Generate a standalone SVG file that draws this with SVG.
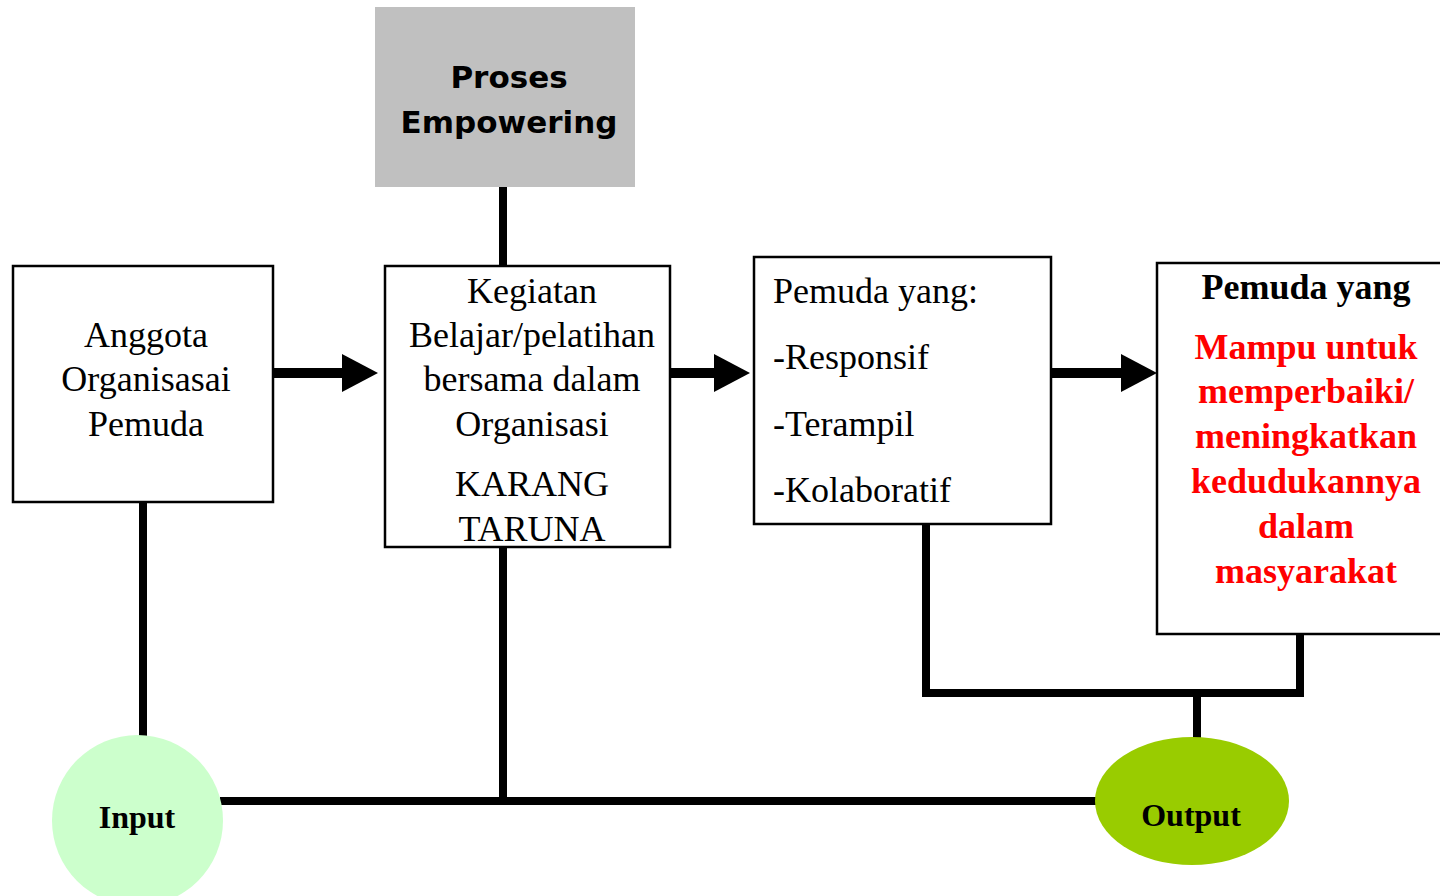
<svg xmlns="http://www.w3.org/2000/svg" width="1440" height="896" viewBox="0 0 1440 896">
<style>
.box{fill:#fff;stroke:#000;stroke-width:2.5}
.ln{fill:none;stroke:#000;stroke-width:8;stroke-linecap:butt}
.arr{fill:none;stroke:#000;stroke-width:10;stroke-linecap:butt}
.t{font-family:"Liberation Serif","Times New Roman",serif;font-size:36px;fill:#000}
.c{text-anchor:middle}
.b{font-weight:bold}
.sm{font-size:32px}
.red{fill:#ff0000}
.sans{font-family:"DejaVu Sans",Verdana,sans-serif;font-weight:bold;font-size:31px;text-anchor:middle;fill:#000}
</style>
<defs>
<marker id="ah" markerUnits="userSpaceOnUse" markerWidth="36" markerHeight="38" refX="0" refY="19" orient="auto" overflow="visible">
<path d="M0,0 L36,19 L0,38 Z" fill="#000"/>
</marker>
</defs>
<g id="connectors">
<line class="ln" x1="503" y1="187" x2="503" y2="266"/>
<line class="arr" x1="273" y1="373" x2="342" y2="373" marker-end="url(#ah)"/>
<line class="arr" x1="670" y1="373" x2="714" y2="373" marker-end="url(#ah)"/>
<line class="arr" x1="1051" y1="373" x2="1121" y2="373" marker-end="url(#ah)"/>
<line class="ln" x1="143" y1="502" x2="143" y2="737"/>
<line class="ln" x1="503" y1="547" x2="503" y2="801"/>
<line class="ln" x1="220" y1="801" x2="1097" y2="801"/>
<polyline class="ln" points="926,524 926,693 1300,693 1300,634"/>
<line class="ln" x1="1197" y1="693" x2="1197" y2="739"/>
</g>
<g id="proses">
<rect x="375" y="7" width="260" height="180" fill="#c0c0c0"/>
<text class="sans" x="509" y="88">Proses</text>
<text class="sans" x="509" y="133">Empowering</text>
</g>
<g id="anggota">
<rect class="box" x="13" y="266" width="260" height="236"/>
<text class="t c" x="146" y="347">Anggota</text>
<text class="t c" x="146" y="391">Organisasai</text>
<text class="t c" x="146" y="436">Pemuda</text>
</g>
<g id="kegiatan">
<rect class="box" x="385" y="266" width="285" height="281"/>
<text class="t c" x="532" y="303">Kegiatan</text>
<text class="t c" x="532" y="347">Belajar/pelatihan</text>
<text class="t c" x="532" y="391">bersama dalam</text>
<text class="t c" x="532" y="436">Organisasi</text>
<text class="t c" x="532" y="496">KARANG</text>
<text class="t c" x="532" y="541">TARUNA</text>
</g>
<g id="pemuda1">
<rect class="box" x="754" y="257" width="297" height="267"/>
<text class="t" x="773" y="303">Pemuda yang:</text>
<text class="t" x="773" y="369">-Responsif</text>
<text class="t" x="773" y="436">-Terampil</text>
<text class="t" x="773" y="502">-Kolaboratif</text>
</g>
<g id="pemuda2">
<rect class="box" x="1157" y="263" width="300" height="371"/>
<text class="t c b" x="1306" y="299">Pemuda yang</text>
<text class="t c b red" x="1306" y="359">Mampu untuk</text>
<text class="t c b red" x="1306" y="403">memperbaiki/</text>
<text class="t c b red" x="1306" y="448">meningkatkan</text>
<text class="t c b red" x="1306" y="493">kedudukannya</text>
<text class="t c b red" x="1306" y="538">dalam</text>
<text class="t c b red" x="1306" y="583">masyarakat</text>
</g>
<g id="input">
<circle cx="137.5" cy="820.5" r="85.5" fill="#ccffcc"/>
<text class="t c b sm" x="137" y="828">Input</text>
</g>
<g id="output">
<ellipse cx="1192" cy="801" rx="97" ry="64" fill="#99cc00"/>
<text class="t c b sm" x="1191" y="826">Output</text>
</g>
</svg>
